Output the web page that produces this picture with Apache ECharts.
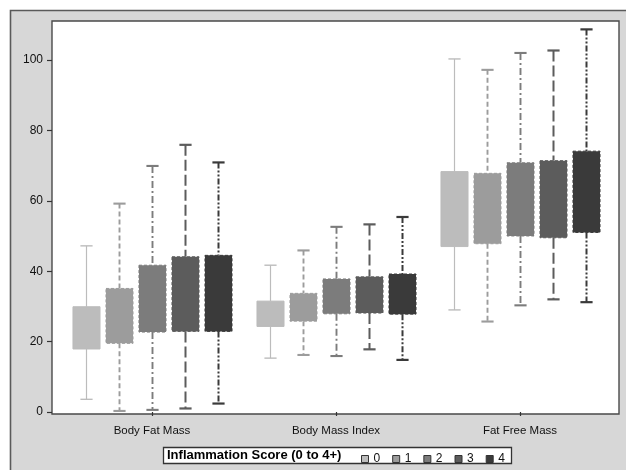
<!DOCTYPE html>
<html>
<head>
<meta charset="utf-8">
<script src="https://cdn.jsdelivr.net/npm/echarts@6/dist/echarts.min.js"></script>
<style>
html,body{margin:0;padding:0;background:#fff;}
#chart{width:626px;height:470px;}
</style>
</head>
<body>
<div id="chart"></div>
<script>
// ---- data ----
const categories = ['Body Fat Mass', 'Body Mass Index', 'Fat Free Mass'];
const scoreLevels = ['0', '1', '2', '3', '4'];
const yTicks = [0, 20, 40, 60, 80, 100];
// per score level: [low whisker, Q1, Q3, high whisker] for each category
const score0 = [[3.6, 17.9, 29.9, 47.2], [15.3, 24.3, 31.5, 41.7], [29.0, 47.0, 68.3, 100.3]];
const score1 = [[0.3, 19.5, 35.1, 59.2], [16.2, 25.8, 33.7, 45.9], [25.7, 47.8, 67.8, 97.2]];
const score2 = [[0.6, 22.7, 41.7, 69.9], [15.9, 27.9, 37.8, 52.6], [30.3, 50.0, 70.8, 102.0]];
const score3 = [[1.0, 22.9, 44.1, 75.9], [17.8, 28.1, 38.4, 53.3], [32.0, 49.5, 71.4, 102.7]];
const score4 = [[2.4, 22.9, 44.5, 70.9], [14.8, 27.8, 39.2, 55.4], [31.2, 51.0, 74.1, 108.7]];
const allScores = [score0, score1, score2, score3, score4];

// ---- styles ----
const colors = ['#bcbcbc', '#9c9c9c', '#7c7c7c', '#5c5c5c', '#3a3a3a'];
const dashes = [null, [5, 3], [7, 3, 2, 3], [11, 4], [6, 2, 2, 2, 2, 2]];
const whiskerWidths = [1.2, 1.9, 1.9, 2, 2];

function makeSeries(k) {
  const data = allScores[k].map((v, i) => [i, v[0], v[1], v[2], v[3]]);
  return {
    type: 'custom',
    name: scoreLevels[k],
    xAxisIndex: 1,
    yAxisIndex: 1,
    itemStyle: { color: colors[k] },
    encode: { x: 0, y: [1, 2, 3, 4] },
    data: data,
    renderItem: function (params, api) {
      const xi = api.value(0);
      const pLow = api.coord([xi, api.value(1)]);
      const pQ1 = api.coord([xi, api.value(2)]);
      const pQ3 = api.coord([xi, api.value(3)]);
      const pHigh = api.coord([xi, api.value(4)]);
      const band = api.size([1, 0])[0];
      const cx = Math.round(pLow[0] + (k - 2) * band * 0.18) + 0.5;
      const bw = band * 0.147;
      const cw = bw * 0.45;
      const ls = { stroke: colors[k], lineWidth: whiskerWidths[k], lineDash: dashes[k] || null, fill: null };
      const cs = { stroke: colors[k], lineWidth: whiskerWidths[k] + 0.2, fill: null };
      return {
        type: 'group',
        children: [
          { type: 'line', shape: { x1: cx, y1: pHigh[1], x2: cx, y2: pQ3[1] }, style: ls },
          { type: 'line', shape: { x1: cx, y1: pQ1[1], x2: cx, y2: pLow[1] }, style: ls },
          { type: 'line', shape: { x1: cx - cw / 2, y1: pHigh[1], x2: cx + cw / 2, y2: pHigh[1] }, style: cs },
          { type: 'line', shape: { x1: cx - cw / 2, y1: pLow[1], x2: cx + cw / 2, y2: pLow[1] }, style: cs },
          { type: 'rect', shape: { x: cx - bw / 2, y: pQ3[1], width: bw, height: pQ1[1] - pQ3[1] },
            style: { fill: colors[k], stroke: colors[k], lineWidth: 1, lineDash: k > 0 ? [3, 2] : null } }
        ]
      };
    }
  };
}

const chart = echarts.init(document.getElementById('chart'), null, { renderer: 'canvas' });
const textFont = 'Liberation Sans, Arial, sans-serif';

chart.setOption({
  backgroundColor: '#ffffff',
  animation: false,
  textStyle: { fontFamily: textFont },
  graphic: [
    { type: 'rect', z: -100, shape: { x: 10.5, y: 10.5, width: 640, height: 480 },
      style: { fill: '#d7d7d7', stroke: '#5a5a5a', lineWidth: 1.6 } },
    { type: 'rect', z: 1, shape: { x: 163.5, y: 447.5, width: 348, height: 16 },
      style: { fill: '#ffffff', stroke: '#333333', lineWidth: 1.3 } },
    { type: 'text', z: 2, x: 167, y: 455.5,
      style: { text: 'Inflammation Score (0 to 4+)', fill: '#000', font: 'bold 13px ' + textFont, textVerticalAlign: 'middle' } }
  ],
  grid: [
    { left: 52, top: 21, width: 567, height: 393, show: true, backgroundColor: '#ffffff',
      borderColor: '#4a4a4a', borderWidth: 1.4, z: 0 },
    { left: 60, top: 21, width: 552, height: 393, show: false }
  ],
  xAxis: [
    { gridIndex: 0, type: 'value', show: false, min: 0, max: 1 },
    { gridIndex: 1, type: 'category', data: categories, boundaryGap: true,
      axisLine: { show: false },
      axisTick: { show: true, alignWithLabel: true, length: 4, lineStyle: { color: '#333', width: 1.2 } },
      axisLabel: { margin: 11, fontSize: 11.5, color: '#111', fontFamily: textFont } }
  ],
  yAxis: [
    { gridIndex: 0, type: 'value', show: false, min: 0, max: 1 },
    { gridIndex: 1, type: 'value', min: -0.57, max: 111.08, offset: 8,
      splitLine: { show: false },
      axisLine: { show: false },
      axisTick: { show: true, length: 5, customValues: yTicks, lineStyle: { color: '#333', width: 1.2 } },
      axisLabel: { customValues: yTicks, margin: 9, fontSize: 12, color: '#111', fontFamily: textFont } }
  ],
  legend: {
    data: scoreLevels,
    left: 356, top: 448,
    orient: 'horizontal',
    itemWidth: 7, itemHeight: 7, itemGap: 12,
    icon: 'rect',
    itemStyle: { borderColor: '#333', borderWidth: 1 },
    textStyle: { fontSize: 12, color: '#111', fontFamily: textFont, padding: [0, 0, 0, 0] },
    selectedMode: false,
    z: 5
  },
  series: [0, 1, 2, 3, 4].map(makeSeries)
});
</script>
</body>
</html>
